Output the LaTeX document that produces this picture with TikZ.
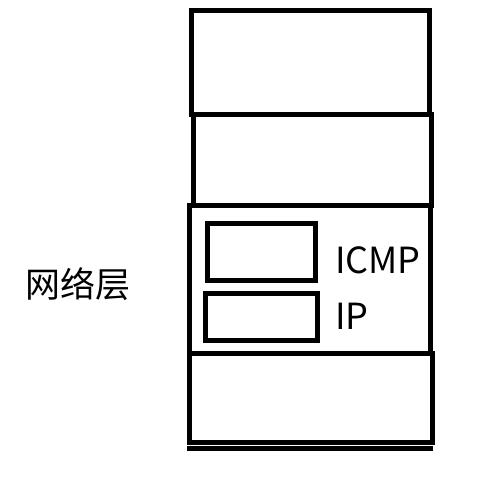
\documentclass[tikz,border=0pt]{standalone}
\usepackage{fontspec}
\setmainfont{Noto Sans CJK SC}
\begin{document}
\begin{tikzpicture}[x=1pt,y=-1pt,
  layerbox/.style={draw=black,line width=5pt,fill=none},
  lbl/.style={inner sep=0pt,font=\fontsize{36}{40}\selectfont}]
\useasboundingbox (0,0) rectangle (493,484);
\draw[layerbox] (191.5,10.5) rectangle (429.5,115);
\draw[layerbox] (193,115) rectangle (431.5,206);
\draw[layerbox] (189.5,206) rectangle (430.5,353);
\draw[layerbox] (189,353.5) rectangle (432.5,442.5);
\draw[line width=5pt] (187,448) -- (433,448);
\node[layerbox,minimum width=108pt,minimum height=57pt,inner sep=0pt] (icmpbox) at (261.5,251.5) {};
\node[layerbox,minimum width=112pt,minimum height=47pt,inner sep=0pt] (ipbox) at (261,316.5) {};
\node[lbl,anchor=base west] (icmp) at (335,273) {ICMP};
\node[lbl,anchor=base west] (ip) at (335,329) {IP};
\node[lbl,anchor=center,font=\fontsize{35}{40}\selectfont] (net) at (78,284) {网络层};
\end{tikzpicture}
\end{document}
